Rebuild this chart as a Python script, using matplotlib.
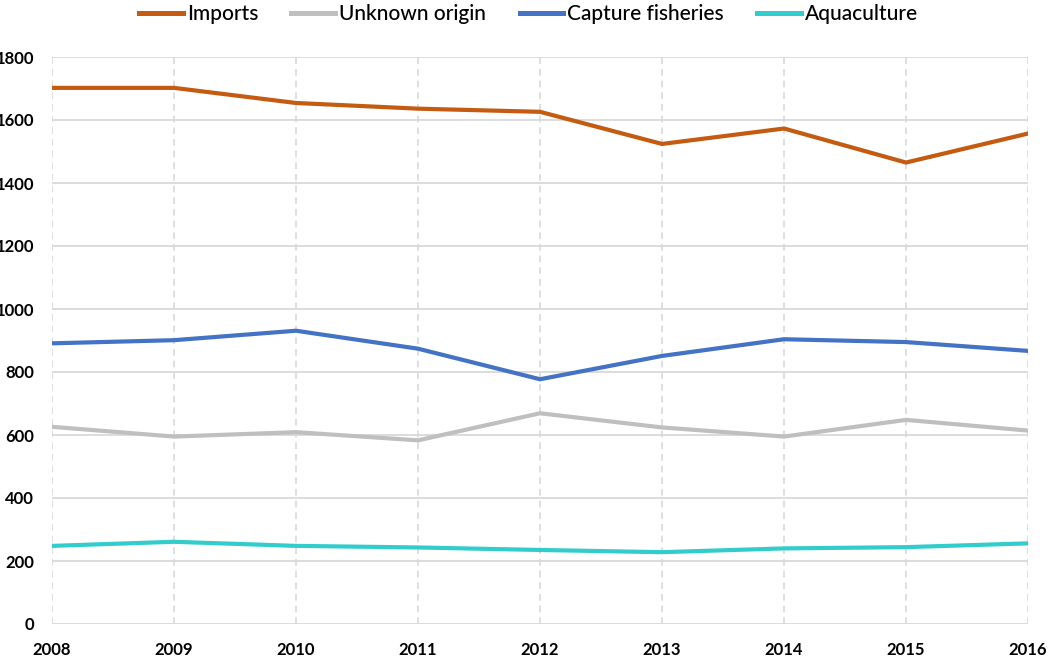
import matplotlib
matplotlib.use("Agg")
import matplotlib.pyplot as plt

years = [2008, 2009, 2010, 2011, 2012, 2013, 2014, 2015, 2016]
imports = [1702, 1702, 1654, 1636, 1626, 1524, 1573, 1465, 1557]
unknown_origin = [626, 595, 609, 583, 669, 624, 595, 648, 614]
capture_fisheries = [891, 901, 931, 874, 777, 851, 904, 895, 867]
aquaculture = [248, 261, 248, 243, 235, 228, 240, 244, 256]

series_names = ["Imports", "Unknown origin", "Capture fisheries", "Aquaculture"]
series_colors = ["#C55A11", "#BFBFBF", "#4472C4", "#33CCCC"]
y_ticks = [0, 200, 400, 600, 800, 1000, 1200, 1400, 1600, 1800]

plt.rcParams['font.family'] = ['Lato', 'DejaVu Sans']

fig = plt.figure(figsize=(10.51, 6.62), dpi=100)
ax = fig.add_axes([52/1051, 1 - 624/662, (1028 - 52)/1051, (624 - 57)/662])

for vals, name, col in zip([imports, unknown_origin, capture_fisheries, aquaculture],
                           series_names, series_colors):
    ax.plot(years, vals, color=col, lw=3.0, label=name, solid_joinstyle='miter', zorder=3)

ax.set_xlim(years[0], years[-1])
ax.set_ylim(0, 1800)
ax.set_yticks(y_ticks)
ax.set_xticks(years)
ax.set_xticklabels([str(y) for y in years])

for y in y_ticks:
    ax.axhline(y, color="#D9D9D9", lw=1.3, zorder=1)
for x in years:
    ax.axvline(x, color="#D9D9D9", lw=1.2, ls=(0, (4, 3)), zorder=1)

for s in ax.spines.values():
    s.set_visible(False)
ax.tick_params(axis='both', length=0)
ax.tick_params(axis='y', pad=13)
ax.tick_params(axis='x', pad=13)
for lab in ax.get_xticklabels() + ax.get_yticklabels():
    lab.set_fontweight('bold')
    lab.set_fontsize(12)
    lab.set_color('black')

leg = fig.legend(loc='upper center', bbox_to_anchor=(0.503, 1.022), ncol=4, frameon=False,
                 fontsize=15, handlelength=2.1, handletextpad=0.2, columnspacing=1.6)
for line in leg.get_lines():
    line.set_linewidth(3.6)
for t in leg.get_texts():
    t.set_fontweight('medium')

fig.savefig("out.png", dpi=100)
